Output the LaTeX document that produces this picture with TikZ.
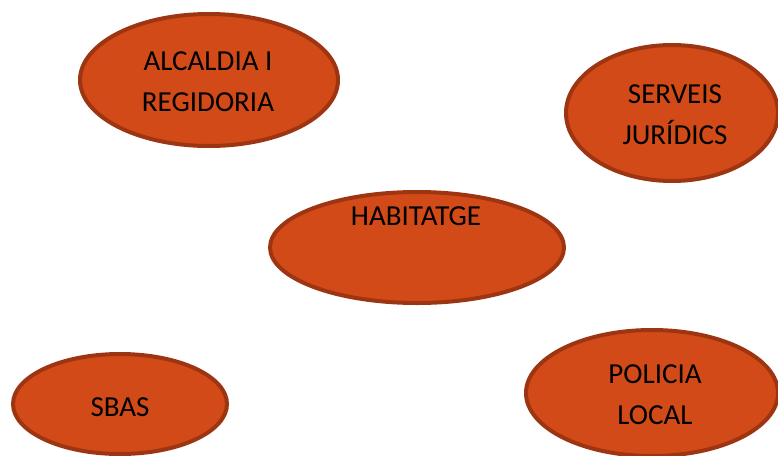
\documentclass[tikz,border=0pt]{standalone}
\usepackage{fontspec}
\setmainfont{Carlito}
\definecolor{fillc}{HTML}{D14A18}
\definecolor{edgec}{HTML}{9E3512}
\begin{document}
\begin{tikzpicture}[x=1pt,y=-1pt,
  blob/.style={draw=edgec,line width=4pt,fill=fillc},
  lbl/.style={font=\fontsize{29}{41}\selectfont,align=center,inner sep=0pt}]
\useasboundingbox (0,0) rectangle (778,455);
\begin{scope}
\clip (0,0) rectangle (778,455);
\filldraw[blob] (209,80) ellipse [x radius=129, y radius=66];
\filldraw[blob] (672,113) ellipse [x radius=106, y radius=68];
\filldraw[blob] (417,247.5) ellipse [x radius=147, y radius=55.5];
\filldraw[blob] (120,404) ellipse [x radius=107, y radius=50];
\filldraw[blob] (652,393) ellipse [x radius=126, y radius=63];
\end{scope}
\node[lbl] (alc) at (208,81.5) {ALCALDIA I\\REGIDORIA};
\node[lbl] (ser) at (675,114.5) {SERVEIS\\JURÍDICS};
\node[lbl] (hab) at (416,216) {HABITATGE};
\node[lbl] (sba) at (120,407) {SBAS};
\node[lbl] (pol) at (655,394.5) {POLICIA\\LOCAL};
\end{tikzpicture}
\end{document}
